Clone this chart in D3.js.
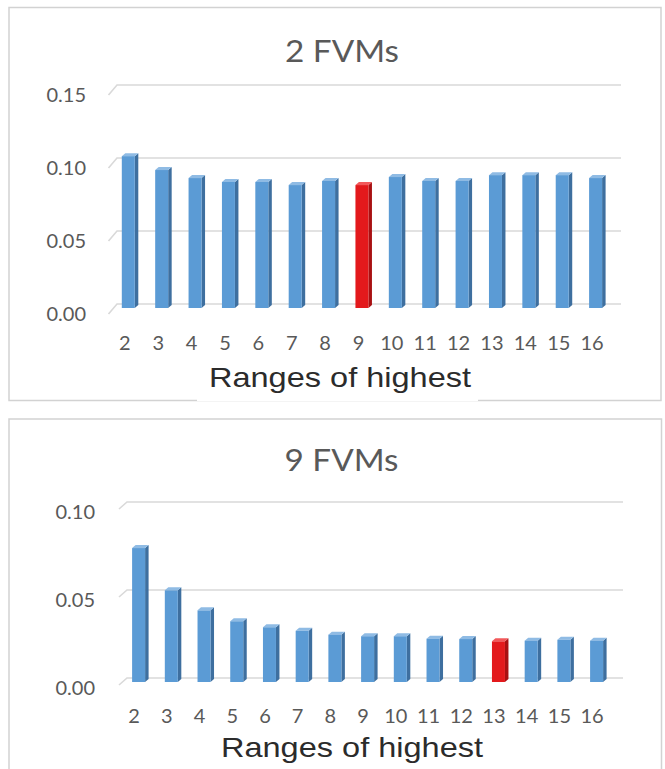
<!DOCTYPE html>
<html>
<head>
<meta charset="utf-8">
<script src="https://cdn.jsdelivr.net/npm/d3@7"></script>
<style>
  html, body { margin: 0; padding: 0; background: #ffffff; }
  svg { display: block; }
</style>
</head>
<body>
<svg id="chart" width="665" height="769"></svg>
<script>
// Ranges on the x axis
const categories = ["2","3","4","5","6","7","8","9","10","11","12","13","14","15","16"];

// 2 FVMs panel
const fvm2Title = "2 FVMs";
const fvm2Values = [0.104, 0.0945, 0.089, 0.0863, 0.0863, 0.0842, 0.087, 0.0842, 0.0897, 0.087, 0.087, 0.091, 0.091, 0.091, 0.089];
const fvm2Ticks = [0, 0.05, 0.10, 0.15];
const fvm2Best = "9";

// 9 FVMs panel
const fvm9Title = "9 FVMs";
const fvm9Values = [0.0761, 0.0521, 0.0407, 0.0345, 0.0311, 0.0291, 0.0269, 0.026, 0.026, 0.0246, 0.0244, 0.0231, 0.0235, 0.024, 0.0235];
const fvm9Ticks = [0, 0.05, 0.10];
const fvm9Best = "13";

const xTitle = "Ranges of highest";

const svg = d3.select("#chart");

const COLORS = {
  front: "#5b9bd5", side: "#3e6f9f", top: "#8fbbe4",
  redFront: "#e3191c", redSide: "#a81012", redTop: "#f2585a",
  grid: "#d9d9d9", text: "#595959", title: "#595959", axisTitle: "#2b2b2b", border: "#d2d2d2"
};

function drawPanel(cfg) {
  const g = svg.append("g");

  // panel frame
  g.append("rect")
    .attr("x", cfg.frame.x).attr("y", cfg.frame.y)
    .attr("width", cfg.frame.w).attr("height", cfg.frame.h)
    .attr("fill", "#fff").attr("stroke", COLORS.border).attr("stroke-width", 1.5);

  const x = d3.scalePoint().domain(categories).range(cfg.xRange);
  const y = d3.scaleLinear().domain([0, cfg.yMax]).range([cfg.y0, cfg.y0 - cfg.pxPerUnit * cfg.yMax]);

  // back-wall gridlines with the side-wall slant on the left
  const dxSlant = cfg.slantDx;
  g.append("g").selectAll("path").data(cfg.ticks).join("path")
    .attr("d", v => {
      const yb = y(v) + cfg.backOff, yf = y(v) + cfg.frontOff;
      return `M${cfg.gridLeft - dxSlant},${yf}L${cfg.gridLeft},${yb}L${cfg.gridRight},${yb}`;
    })
    .attr("fill", "none").attr("stroke", COLORS.grid).attr("stroke-width", 1.6);

  // 3D columns
  const depthX = 3.5, depthY = 3;
  const bars = g.append("g").selectAll("g").data(categories.map((c, i) => ({ c, v: cfg.values[i] }))).join("g");
  const isBest = d => d.c === cfg.best;
  const x0 = d => x(d.c) + cfg.barOff - cfg.barW / 2;
  const x1 = d => x(d.c) + cfg.barOff + cfg.barW / 2;

  bars.append("path") // side face
    .attr("d", d => `M${x1(d)},${y(d.v)}L${x1(d) + depthX},${y(d.v) - depthY}L${x1(d) + depthX},${y(0) - depthY}L${x1(d)},${y(0)}Z`)
    .attr("fill", d => isBest(d) ? COLORS.redSide : COLORS.side);
  bars.append("path") // top face
    .attr("d", d => `M${x0(d)},${y(d.v)}L${x0(d) + depthX},${y(d.v) - depthY}L${x1(d) + depthX},${y(d.v) - depthY}L${x1(d)},${y(d.v)}Z`)
    .attr("fill", d => isBest(d) ? COLORS.redTop : COLORS.top);
  bars.append("rect") // front face
    .attr("x", x0).attr("y", d => y(d.v))
    .attr("width", cfg.barW).attr("height", d => y(0) - y(d.v))
    .attr("fill", d => isBest(d) ? COLORS.redFront : COLORS.front);

  // y axis labels
  const yAxis = g.append("g")
    .attr("transform", `translate(${cfg.yLabelRight},${cfg.yLabelOff})`)
    .call(d3.axisLeft(y).tickValues(cfg.ticks).tickFormat(d3.format(".2f")).tickSize(0).tickPadding(0));
  yAxis.select(".domain").remove();
  yAxis.selectAll("text")
    .attr("fill", COLORS.text).attr("font-family", "Lato, 'Open Sans', sans-serif").attr("font-size", 20);

  // x axis labels
  const xAxis = g.append("g")
    .attr("transform", `translate(0,${cfg.xLabelBase - 14.2})`)
    .call(d3.axisBottom(x).tickSize(0).tickPadding(0));
  xAxis.select(".domain").remove();
  xAxis.selectAll("text")
    .attr("fill", COLORS.text).attr("font-family", "Lato, 'Open Sans', sans-serif").attr("font-size", 20);

  // chart title
  g.append("text")
    .attr("x", cfg.titleX).attr("y", cfg.titleY)
    .attr("text-anchor", "middle")
    .attr("fill", COLORS.title)
    .attr("font-family", "Lato, 'Open Sans', sans-serif").attr("font-size", 30)
    .attr("textLength", 114).attr("lengthAdjust", "spacingAndGlyphs")
    .text(cfg.title);

  // axis title on a white backing
  if (cfg.titleGap) {
    g.append("rect").attr("x", cfg.titleGap[0]).attr("y", cfg.axisTitleY - 26)
      .attr("width", cfg.titleGap[1] - cfg.titleGap[0]).attr("height", 40).attr("fill", "#fff");
  }
  g.append("text")
    .attr("x", cfg.axisTitleX).attr("y", cfg.axisTitleY)
    .attr("text-anchor", "middle")
    .attr("fill", COLORS.axisTitle)
    .attr("font-family", "'Liberation Sans', Arial, sans-serif").attr("font-size", 28)
    .attr("textLength", 262).attr("lengthAdjust", "spacingAndGlyphs")
    .text(xTitle);
}

drawPanel({
  frame: { x: 9, y: 7.5, w: 652, h: 393 },
  title: fvm2Title, values: fvm2Values, ticks: fvm2Ticks, best: fvm2Best,
  yMax: 0.15, y0: 308, pxPerUnit: 1460,
  xRange: [124.3, 591.6], barOff: 4, barW: 13,
  gridLeft: 117, gridRight: 621, slantDx: 8.5, backOff: -4, frontOff: 6,
  yLabelRight: 86, yLabelOff: 6.5, xLabelBase: 350,
  titleX: 342, titleY: 62,
  axisTitleX: 340, axisTitleY: 387, titleGap: [197, 478]
});

drawPanel({
  frame: { x: 9, y: 419, w: 652.5, h: 360 },
  title: fvm9Title, values: fvm9Values, ticks: fvm9Ticks, best: fvm9Best,
  yMax: 0.10, y0: 682, pxPerUnit: 1760,
  xRange: [133.6, 591.6], barOff: 5, barW: 13,
  gridLeft: 127, gridRight: 623, slantDx: 8, backOff: -4, frontOff: 3,
  yLabelRight: 95, yLabelOff: 6, xLabelBase: 723,
  titleX: 341.5, titleY: 471,
  axisTitleX: 352, axisTitleY: 757, titleGap: null
});
</script>
</body>
</html>
